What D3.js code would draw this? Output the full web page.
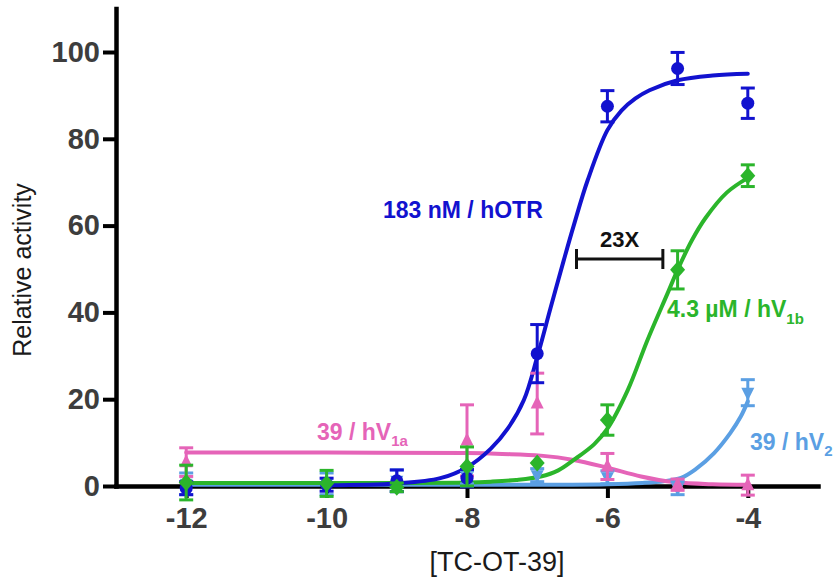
<!DOCTYPE html>
<html><head><meta charset="utf-8">
<script src="https://cdn.jsdelivr.net/npm/d3@7"></script>
<style>body{margin:0;background:#fff}svg{display:block}</style>
</head><body>
<svg id="chart" width="836" height="583"></svg>
<script>
// ---------- DATA ----------
const xDomain = [-13, -3];
const yDomain = [0, 110];
const xTicks = [-12, -10, -8, -6, -4];
const xTickLabels = ["-12", "-10", "-8", "-6", "-4"];
const yTicks = [0, 20, 40, 60, 80, 100];
const yTickLabels = ["0", "20", "40", "60", "80", "100"];

// hOTR (blue circles)
const hotrDoses = [-12, -10, -9, -8, -7, -6, -5, -4];
const hotrValues = [-0.5, 0.3, 1.2, 1.8, 30.5, 87.5, 96.2, 88.2];
const hotrErrors = [1.5, 1.5, 2.5, 2, 6.7, 3.6, 3.7, 3.5];
const hotrCurveX = [-10, -9, -8.38, -7.99, -7.66, -7.42, -7.19, -7.0, -6.81, -6.62, -6.48, -6.28, -6.0, -5.8, -5.6, -5.4, -5.0, -4.5, -4.0];
const hotrCurveY = [0.2, 0.6, 1.8, 4.4, 8.6, 13.2, 19.8, 29.7, 41.0, 52.1, 60.0, 70.5, 82.0, 86.5, 89.3, 91.2, 93.5, 94.6, 95.0];

// hV1b (green diamonds)
const v1bDoses = [-12, -10, -9, -8, -7, -6, -5, -4];
const v1bValues = [0.8, 0.6, -0.3, 4.5, 5.3, 15.2, 49.8, 71.5];
const v1bErrors = [4, 3, 1, 4.5, 0, 3.5, 4.4, 2.5];
const v1bCurveX = [-12, -10, -9, -8, -7.66, -7.3, -6.95, -6.7, -6.48, -6.19, -6.0, -5.71, -5.43, -5.14, -5.0, -4.8, -4.6, -4.3, -4.0];
const v1bCurveY = [0.7, 0.7, 0.7, 0.8, 1.0, 1.4, 2.2, 3.6, 6.0, 9.6, 13.2, 22.1, 33.6, 44.5, 49.8, 56.5, 61.8, 67.6, 71.0];

// hV1a (pink triangles)
const v1aDoses = [-12, -8, -7, -6, -5, -4];
const v1aValues = [5.5, 10.5, 19, 4.5, 0.3, 0.2];
const v1aErrors = [3.3, 8.2, 7, 3, 1.3, 2.3];
const v1aCurveX = [-12, -10, -8, -7.5, -6.95, -6.48, -6.0, -5.52, -5.05, -4.5, -4.0];
const v1aCurveY = [7.7, 7.7, 7.6, 7.4, 7.0, 6.0, 4.2, 2.2, 0.9, 0.4, 0.3];

// hV2 (light blue inverted triangles)
const v2Doses = [-12, -10, -9, -8, -7, -6, -5, -4];
const v2Values = [0.5, 0.5, 1.2, 2, 2.5, 2, -0.5, 21.5];
const v2Errors = [2.5, 2.5, 2.5, 1.5, 1.5, 1.5, 1.5, 3];
const v2CurveX = [-12, -8, -6.5, -6.0, -5.5, -5.2, -4.95, -4.75, -4.48, -4.25, -4.1, -4.0];
const v2CurveY = [0.3, 0.3, 0.3, 0.4, 0.7, 1.1, 1.9, 3.8, 7.6, 12.2, 16.0, 19.5];

// fold-shift annotation
const foldBarX = [-6.44, -5.21];
const foldBarY = 52.3;
const foldText = "23X";

// ---------- CHART ----------
const FONT = "'Liberation Sans', Arial, Helvetica, sans-serif";
const svg = d3.select('#chart');
const x = d3.scaleLinear().domain(xDomain).range([116, 818]);
const y = d3.scaleLinear().domain(yDomain).range([486, 8.6]);

const colors = { hotr: '#1212cf', v1b: '#2bb52b', v1a: '#e564b8', v2: '#5b9fe3' };

// axes
const yAxis = d3.axisLeft(y).tickValues(yTicks).tickFormat((d, i) => yTickLabels[i])
  .tickSize(13).tickSizeOuter(0).tickPadding(3);
const gy = svg.append('g').attr('transform', 'translate(116,0)').call(yAxis);
const xAxis = d3.axisBottom(x).tickValues(xTicks).tickFormat((d, i) => xTickLabels[i])
  .tickSize(12).tickSizeOuter(0).tickPadding(9);
const gx = svg.append('g').attr('transform', 'translate(0,486)').call(xAxis);
[gx, gy].forEach(g => {
  g.select('.domain').attr('stroke', '#000').attr('stroke-width', 4.5).attr('stroke-linecap', 'square');
  g.selectAll('.tick line').attr('stroke', '#000').attr('stroke-width', 4);
  g.selectAll('.tick text').attr('font-family', FONT).attr('font-size', 29)
    .attr('font-weight', 'bold').attr('fill', '#3d3d3d');
});

// axis titles
svg.append('text').attr('transform', 'translate(31,270) rotate(-90)')
  .attr('text-anchor', 'middle').attr('font-family', FONT).attr('font-size', 25)
  .attr('fill', '#1a1a1a').text('Relative activity');
svg.append('text').attr('x', 497).attr('y', 571).attr('text-anchor', 'middle')
  .attr('font-family', FONT).attr('font-size', 27).attr('fill', '#1a1a1a').text('[TC-OT-39]');

// curves
const line = d3.line().x(d => x(d[0])).y(d => y(d[1])).curve(d3.curveCatmullRom.alpha(0.5));
function drawCurve(xs, ys, color) {
  svg.append('path').datum(xs.map((v, i) => [v, ys[i]]))
    .attr('d', line).attr('fill', 'none').attr('stroke', color)
    .attr('stroke-width', 4).attr('stroke-linecap', 'round');
}
drawCurve(v2CurveX, v2CurveY, colors.v2);
drawCurve(v1aCurveX, v1aCurveY, colors.v1a);
drawCurve(v1bCurveX, v1bCurveY, colors.v1b);
drawCurve(hotrCurveX, hotrCurveY, colors.hotr);

// markers
const shapes = {
  circle: 'M6.5,0A6.5,6.5,0,1,1,-6.5,0A6.5,6.5,0,1,1,6.5,0Z',
  diamond: 'M0,-8.5L7.5,0L0,8.5L-7.5,0Z',
  triUp: 'M0,-8L6.5,5L-6.5,5Z',
  triDown: 'M0,8L6.5,-5L-6.5,-5Z'
};
function drawPoints(doses, vals, errs, color, shape) {
  const g = svg.append('g');
  const pts = doses.map((d, i) => ({ d, v: vals[i], e: errs[i] }));
  pts.forEach(p => {
    if (p.e > 0) {
      const cx = x(p.d), y1 = y(p.v + p.e), y2 = y(p.v - p.e);
      g.append('line').attr('x1', cx).attr('x2', cx).attr('y1', y1).attr('y2', y2)
        .attr('stroke', color).attr('stroke-width', 3);
      [y1, y2].forEach(yy => g.append('line').attr('x1', cx - 7).attr('x2', cx + 7)
        .attr('y1', yy).attr('y2', yy).attr('stroke', color).attr('stroke-width', 3));
    }
  });
  g.selectAll('path.m').data(pts).enter().append('path').attr('class', 'm')
    .attr('d', shapes[shape]).attr('fill', color)
    .attr('transform', p => `translate(${x(p.d)},${y(p.v)})`);
}
drawPoints(v2Doses, v2Values, v2Errors, colors.v2, 'triDown');
drawPoints(v1aDoses, v1aValues, v1aErrors, colors.v1a, 'triUp');
drawPoints(hotrDoses, hotrValues, hotrErrors, colors.hotr, 'circle');
drawPoints(v1bDoses, v1bValues, v1bErrors, colors.v1b, 'diamond');

// fold annotation
const fy = y(foldBarY);
svg.append('line').attr('x1', x(foldBarX[0])).attr('x2', x(foldBarX[1])).attr('y1', fy).attr('y2', fy)
  .attr('stroke', '#111').attr('stroke-width', 3);
foldBarX.forEach(v => svg.append('line').attr('x1', x(v)).attr('x2', x(v))
  .attr('y1', fy - 10).attr('y2', fy + 10).attr('stroke', '#111').attr('stroke-width', 3));
svg.append('text').attr('x', (x(foldBarX[0]) + x(foldBarX[1])) / 2).attr('y', fy - 12)
  .attr('text-anchor', 'middle').attr('font-family', FONT).attr('font-size', 22)
  .attr('font-weight', 'bold').attr('fill', '#111').text(foldText);

// series labels
function label(xp, yp, main, sub, color, subDy) {
  const t = svg.append('text').attr('x', xp).attr('y', yp).attr('font-family', FONT)
    .attr('font-size', 23).attr('font-weight', 'bold').attr('fill', color);
  t.append('tspan').text(main);
  if (sub) t.append('tspan').attr('font-size', 15).attr('dy', subDy).text(sub);
}
label(383, 218, '183 nM / hOTR', null, colors.hotr, 0);
label(317, 440, '39 / hV', '1a', colors.v1a, 6);
label(667, 317, '4.3 µM / hV', '1b', colors.v1b, 7);
label(750, 450, '39 / hV', '2', colors.v2, 6);
</script>
</body></html>
